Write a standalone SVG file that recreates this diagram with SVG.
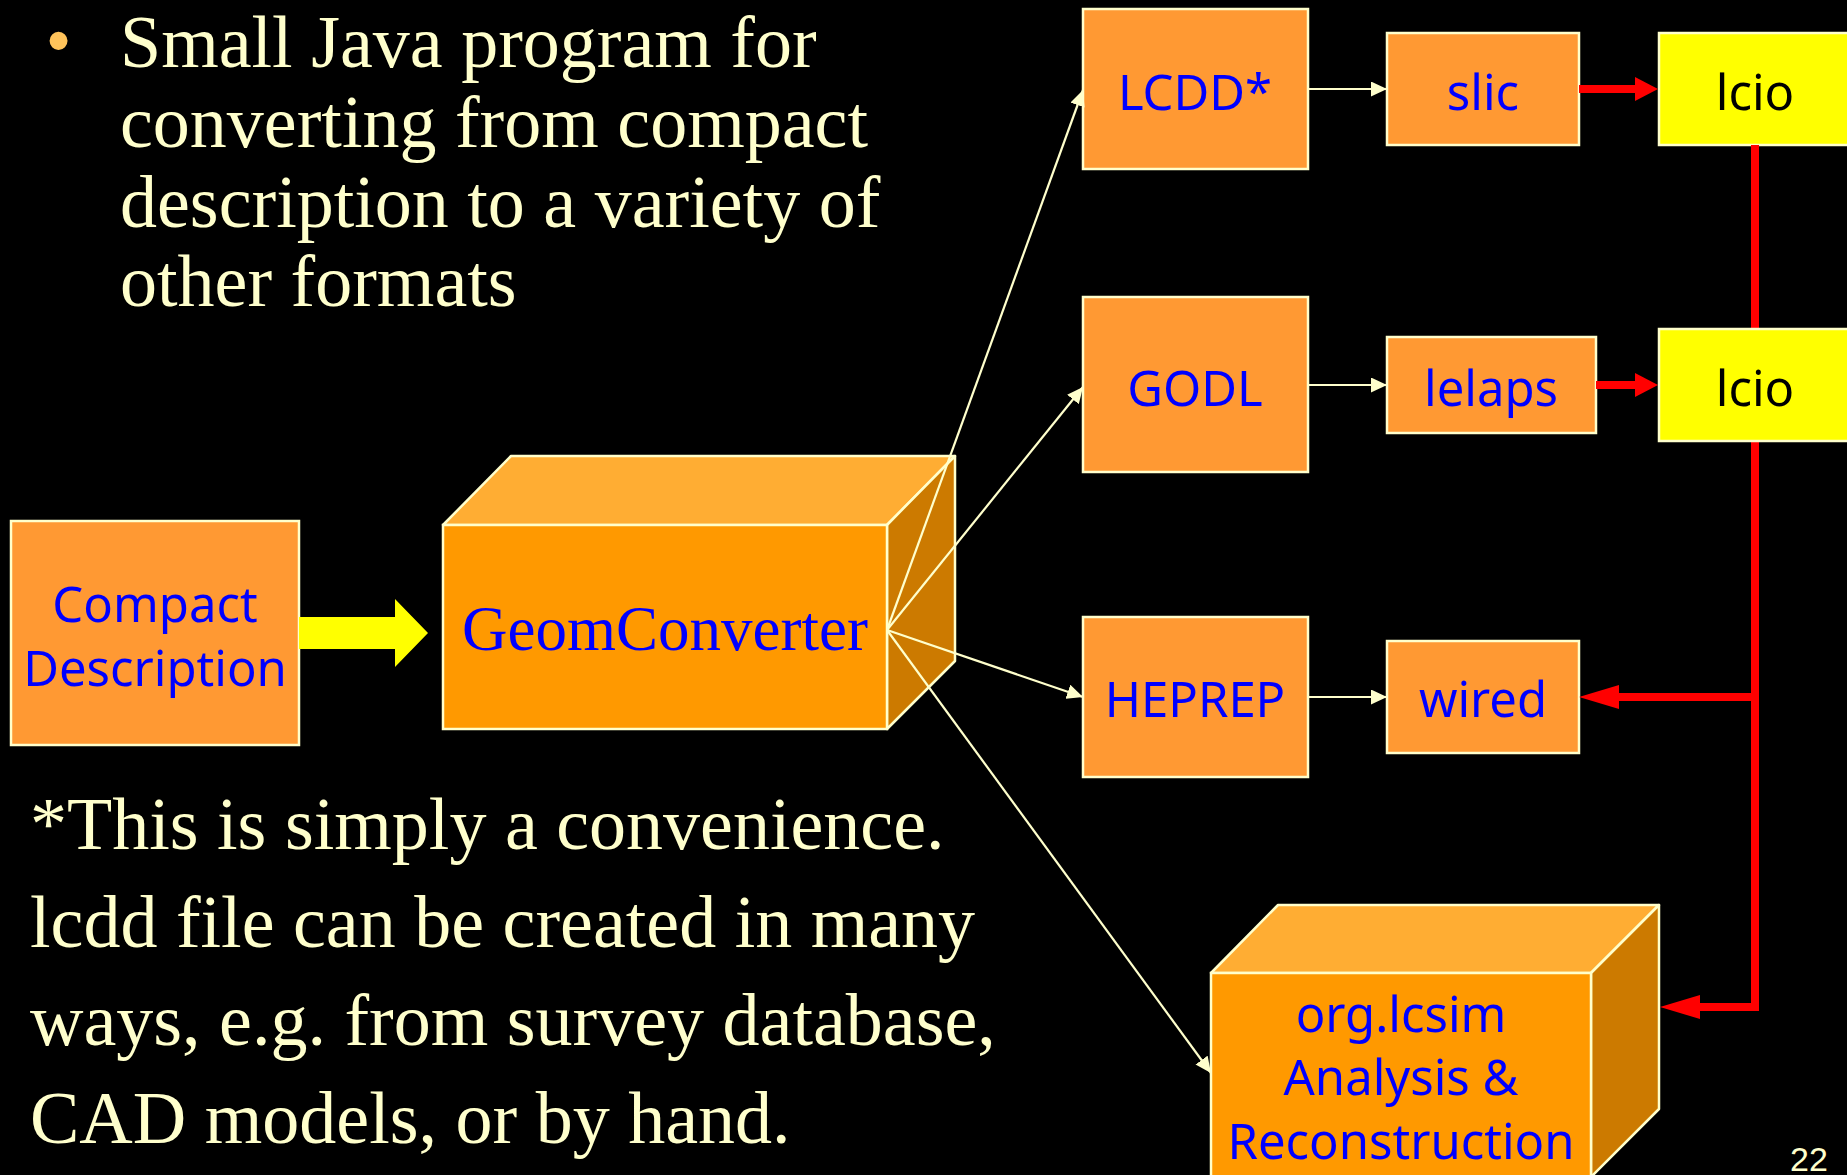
<svg xmlns="http://www.w3.org/2000/svg" width="1847" height="1175" viewBox="0 0 1847 1175">
<defs>
<style>
.box{fill:#FF9933;stroke:#FFFFCC;stroke-width:2.5}
.lcio{fill:#FFFF00;stroke:#FFFFCC;stroke-width:2.5}
.front{fill:#FF9900;stroke:#FFFFCC;stroke-width:2.5}
.top{fill:#FFAD33;stroke:#FFFFCC;stroke-width:2.5;stroke-linejoin:round}
.side{fill:#CC7A00;stroke:#FFFFCC;stroke-width:2.5;stroke-linejoin:round}
.lbl{font-family:"Noto Sans","Open Sans","DejaVu Sans",sans-serif;font-size:49px;fill:#0000FF;text-anchor:middle}
.blk{fill:#000000}
.serif{font-family:"Liberation Serif","Times New Roman",serif;font-size:74px;fill:#FFFFCC}
.conn{stroke:#FFFFCC;stroke-width:2.2;fill:none}
.red{stroke:#FF0000;stroke-width:8;fill:none}
.redhead{fill:#FF0000}
</style>
<marker id="ah" markerUnits="userSpaceOnUse" markerWidth="17" markerHeight="15" refX="16" refY="7.5" orient="auto">
<path d="M0,0 L16,7.5 L0,15 z" fill="#FFFFCC"/>
</marker>
</defs>
<rect x="0" y="0" width="1847" height="1175" fill="#000000"/>

<g id="bullet-text">
<text x="47" y="63" font-family="Liberation Sans,Arial,sans-serif" font-size="66" fill="#FFC35A">•</text>
<text class="serif" x="120" y="67">Small Java program for</text>
<text class="serif" x="120" y="147">converting from compact</text>
<text class="serif" x="120" y="227">description to a variety of</text>
<text class="serif" x="120" y="306">other formats</text>
</g>

<g id="note-text">
<text class="serif" x="30" y="849">*This is simply a convenience.</text>
<text class="serif" x="30" y="947">lcdd file can be created in many</text>
<text class="serif" x="30" y="1045">ways, e.g. from survey database,</text>
<text class="serif" x="30" y="1143">CAD models, or by hand.</text>
</g>

<g id="compact">
<rect class="box" x="11" y="521" width="288" height="224"/>
<text class="lbl" x="155" y="622">Compact</text>
<text class="lbl" x="155" y="686">Description</text>
</g>

<g id="yellow-arrow">
<polygon points="299,617 395,617 395,599 428,633 395,667 395,649 299,649" fill="#FFFF00"/>
</g>

<g id="geomconverter">
<polygon class="top" points="443,525 511,456 955,456 887,525"/>
<polygon class="side" points="887,525 955,456 955,661 887,729"/>
<rect class="front" x="443" y="525" width="444" height="204"/>
<text x="665" y="650" font-family="Liberation Serif,Times New Roman,serif" font-size="63" fill="#0000FF" text-anchor="middle">GeomConverter</text>
</g>

<g id="lcdd">
<rect class="box" x="1083" y="9" width="225" height="160"/>
<text class="lbl" x="1195" y="110">LCDD*</text>
</g>
<g id="slic">
<rect class="box" x="1387" y="33" width="192" height="112"/>
<text class="lbl" x="1483" y="110">slic</text>
</g>
<g id="lcio1">
<rect class="lcio" x="1659" y="33" width="195" height="112"/>
<text class="lbl blk" x="1755" y="110">lcio</text>
</g>

<g id="godl">
<rect class="box" x="1083" y="297" width="225" height="175"/>
<text class="lbl" x="1195" y="406">GODL</text>
</g>
<g id="lelaps">
<rect class="box" x="1387" y="337" width="209" height="96"/>
<text class="lbl" x="1491" y="406">lelaps</text>
</g>

<g id="heprep">
<rect class="box" x="1083" y="617" width="225" height="160"/>
<text class="lbl" x="1195" y="717">HEPREP</text>
</g>
<g id="wired">
<rect class="box" x="1387" y="641" width="192" height="112"/>
<text class="lbl" x="1483" y="717">wired</text>
</g>

<g id="red-connectors">
<polyline class="red" points="1755,145 1755,1007 1698,1007"/>
<line class="red" x1="1755" y1="697" x2="1616" y2="697"/>
<polygon class="redhead" points="1579,697 1619,685 1619,709"/>
<polygon class="redhead" points="1660,1007 1700,995 1700,1019"/>
<line class="red" x1="1579" y1="89" x2="1637" y2="89"/>
<polygon class="redhead" points="1658,89 1635,77 1635,101"/>
<line class="red" x1="1596" y1="385" x2="1637" y2="385"/>
<polygon class="redhead" points="1658,385 1635,373 1635,397"/>
</g>

<g id="lcio2">
<rect class="lcio" x="1659" y="329" width="195" height="112"/>
<text class="lbl blk" x="1755" y="406">lcio</text>
</g>

<g id="orglcsim">
<polygon class="top" points="1211,973 1278,905 1659,905 1591,973"/>
<polygon class="side" points="1591,973 1659,905 1659,1109 1591,1177"/>
<rect class="front" x="1211" y="973" width="380" height="215"/>
<text class="lbl" x="1401" y="1032">org.lcsim</text>
<text class="lbl" x="1401" y="1095">Analysis &amp;</text>
<text class="lbl" x="1401" y="1159">Reconstruction</text>
</g>

<g id="connectors">
<line class="conn" x1="887" y1="630" x2="1083" y2="90" marker-end="url(#ah)"/>
<line class="conn" x1="887" y1="630" x2="1083" y2="387" marker-end="url(#ah)"/>
<line class="conn" x1="887" y1="630" x2="1083" y2="697" marker-end="url(#ah)"/>
<line class="conn" x1="887" y1="630" x2="1211" y2="1073" marker-end="url(#ah)"/>
<line class="conn" x1="1308" y1="89" x2="1387" y2="89" marker-end="url(#ah)"/>
<line class="conn" x1="1308" y1="385" x2="1387" y2="385" marker-end="url(#ah)"/>
<line class="conn" x1="1308" y1="697" x2="1387" y2="697" marker-end="url(#ah)"/>
</g>

<text x="1790" y="1171" font-family="Liberation Sans,Arial,sans-serif" font-size="34" fill="#FFFFCC">22</text>
</svg>
